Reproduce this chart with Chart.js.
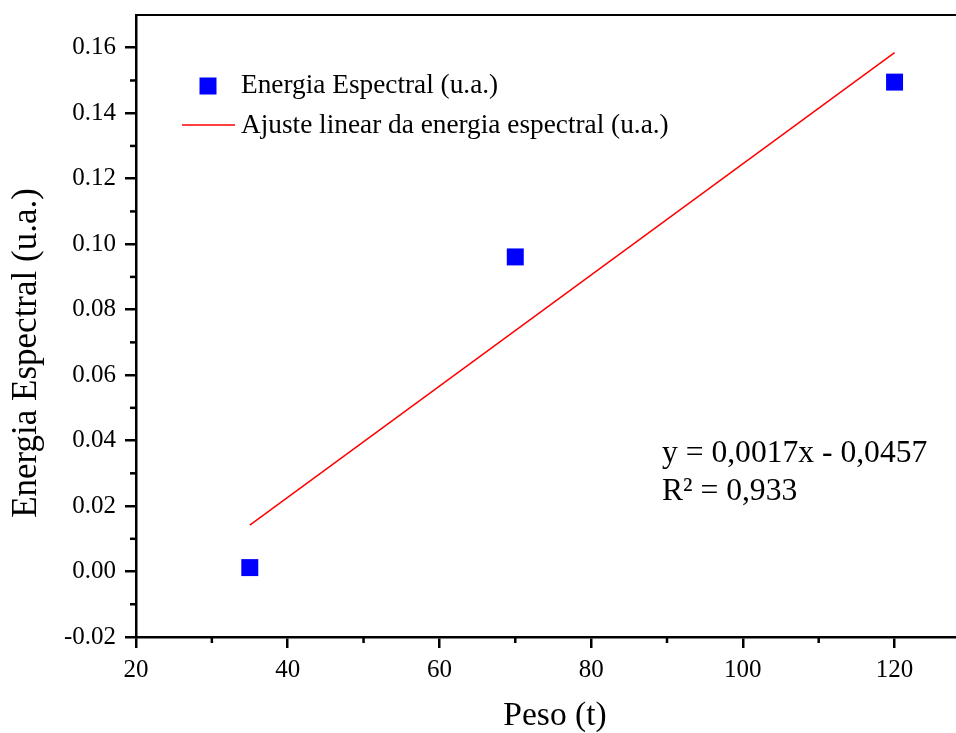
<!DOCTYPE html>
<html>
<head>
<meta charset="utf-8">
<script src="https://cdn.jsdelivr.net/npm/chart.js@4.4.1/dist/chart.umd.min.js"></script>
<style>
  html, body { margin: 0; background: #fff; overflow: hidden; }
  #wrap { width: 956px; height: 733px; overflow: hidden; }
</style>
</head>
<body>
<div id="wrap"><canvas id="myChart" width="968" height="733"></canvas></div>
<script>
const pesos = [35, 70, 120];
const energias = [0.0012, 0.0961, 0.1495];

const ajusteX = [35, 120];
const ajusteY = [0.0142, 0.1585];

const xMinorTicks = [30, 50, 70, 90, 110];
const yMinorTicks = [-0.01, 0.01, 0.03, 0.05, 0.07, 0.09, 0.11, 0.13, 0.15];

const legendLabels = ['Energia Espectral (u.a.)', 'Ajuste linear da energia espectral (u.a.)'];
const equationLines = ['y = 0,0017x - 0,0457', 'R\u00B2 = 0,933'];

const serif = '"Liberation Serif", "Times New Roman", serif';

// minor ticks, top border, titles, legend and equation
const extras = {
    id: 'extras',
    afterDraw(chart) {
        const { ctx, chartArea, scales: { x, y } } = chart;
        ctx.save();
        ctx.strokeStyle = '#000';
        ctx.lineWidth = 2.5;

        xMinorTicks.forEach(v => {
            let px = x.getPixelForValue(v);
            ctx.beginPath();
            ctx.moveTo(px, chartArea.bottom);
            ctx.lineTo(px, chartArea.bottom + 6);
            ctx.stroke();
        });
        yMinorTicks.forEach(v => {
            let py = y.getPixelForValue(v);
            ctx.beginPath();
            ctx.moveTo(chartArea.left, py);
            ctx.lineTo(chartArea.left - 6, py);
            ctx.stroke();
        });

        ctx.lineWidth = 2;
        ctx.beginPath();
        ctx.moveTo(chartArea.left, chartArea.top);
        ctx.lineTo(chart.width, chartArea.top);
        ctx.stroke();

        ctx.fillStyle = '#000';

        // axis titles
        ctx.font = '33.5px ' + serif;
        ctx.textAlign = 'center';
        ctx.textBaseline = 'alphabetic';
        ctx.fillText('Peso (t)', 555, 725);

        ctx.save();
        ctx.font = '35px ' + serif;
        ctx.translate(36, 353);
        ctx.rotate(-Math.PI / 2);
        ctx.fillText('Energia Espectral (u.a.)', 0, 0);
        ctx.restore();

        // legend
        ctx.fillStyle = '#0000ff';
        ctx.fillRect(199.5, 77.5, 17, 17);
        ctx.strokeStyle = '#ff0000';
        ctx.lineWidth = 1.5;
        ctx.beginPath();
        ctx.moveTo(182, 125);
        ctx.lineTo(235, 125);
        ctx.stroke();

        ctx.fillStyle = '#000';
        ctx.font = '27.3px ' + serif;
        ctx.textAlign = 'left';
        ctx.textBaseline = 'middle';
        ctx.fillText(legendLabels[0], 241, 86);
        ctx.fillText(legendLabels[1], 241, 126);

        // equation
        ctx.font = '31.6px ' + serif;
        ctx.textBaseline = 'alphabetic';
        ctx.fillText(equationLines[0], 662, 462);
        ctx.fillText(equationLines[1], 662, 500);

        ctx.restore();
    }
};

const myChart = document.getElementById('myChart');

let scatterChart = new Chart(myChart, {
    type: 'scatter',
    data: {
        datasets: [
            {
                label: legendLabels[0],
                data: pesos.map((p, i) => ({ x: p, y: energias[i] })),
                pointStyle: 'rect',
                pointRadius: 12,
                pointHoverRadius: 12,
                backgroundColor: '#0000ff',
                borderColor: '#0000ff',
                borderWidth: 0
            },
            {
                label: legendLabels[1],
                type: 'line',
                data: ajusteX.map((p, i) => ({ x: p, y: ajusteY[i] })),
                borderColor: '#ff0000',
                borderWidth: 1.5,
                pointRadius: 0,
                fill: false
            }
        ]
    },
    options: {
        responsive: false,
        animation: false,
        events: [],
        layout: { padding: { top: 15, right: 0, left: 0, bottom: 0 } },
        plugins: {
            legend: { display: false },
            tooltip: { enabled: false }
        },
        scales: {
            x: {
                type: 'linear',
                min: 20,
                max: 128.1,
                afterFit: scale => {
                    scale.height = 96;
                    scale.paddingLeft = 0;
                    scale.paddingRight = 0;
                },
                border: { display: true, color: '#000', width: 2.5 },
                grid: { drawOnChartArea: false, color: '#000', lineWidth: 2.5, tickLength: 11 },
                ticks: {
                    stepSize: 20,
                    includeBounds: false,
                    color: '#000',
                    padding: 7,
                    maxRotation: 0,
                    font: { family: serif, size: 25 }
                }
            },
            y: {
                min: -0.02,
                max: 0.17,
                afterFit: scale => {
                    scale.width = 136;
                    scale.paddingTop = 0;
                    scale.paddingBottom = 0;
                },
                border: { display: true, color: '#000', width: 2.5 },
                grid: { drawOnChartArea: false, color: '#000', lineWidth: 2.5, tickLength: 11 },
                ticks: {
                    stepSize: 0.02,
                    includeBounds: false,
                    color: '#000',
                    padding: 9,
                    font: { family: serif, size: 25 },
                    callback: value => value.toFixed(2)
                }
            }
        }
    },
    plugins: [extras]
});
</script>
</body>
</html>
